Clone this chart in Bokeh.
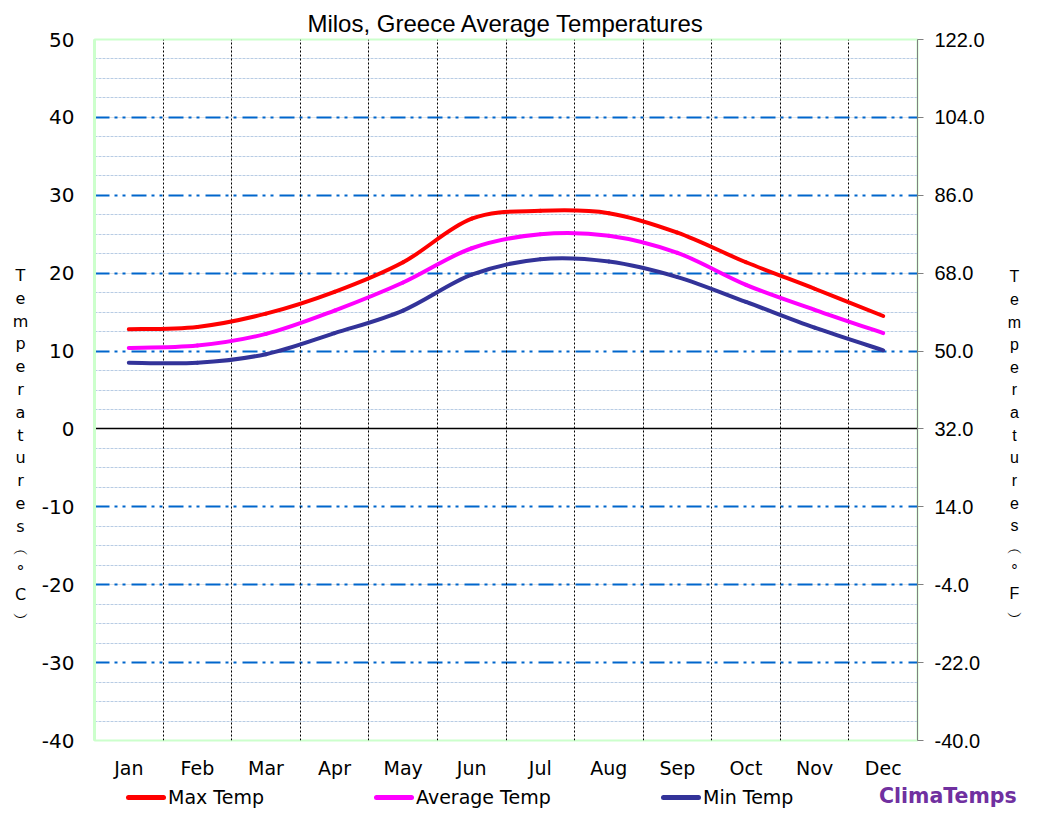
from bokeh.plotting import figure
from bokeh.layouts import column
from bokeh.models import (Range1d, LinearAxis, FixedTicker, Grid, Label, Div,
                          ColumnDataSource, PrintfTickFormatter)
from bokeh.embed import file_html
from bokeh.resources import INLINE
import numpy as np

# ---------------- data ----------------
months = ["Jan", "Feb", "Mar", "Apr", "May", "Jun", "Jul", "Aug", "Sep", "Oct", "Nov", "Dec"]
max_temp = [12.8, 13.1, 14.8, 17.6, 21.4, 27.0, 28.0, 27.7, 25.2, 21.4, 18.0, 14.5]
avg_temp = [10.4, 10.7, 12.2, 15.2, 18.8, 23.2, 25.0, 24.8, 22.6, 18.5, 15.3, 12.3]
min_temp = [8.5, 8.5, 9.6, 12.3, 15.2, 19.8, 21.8, 21.5, 19.5, 16.3, 13.0, 10.1]
series_names = ["Max Temp", "Average Temp", "Min Temp"]
c_ticks = [-40, -30, -20, -10, 0, 10, 20, 30, 40, 50]
f_ticks = [-40.0, -22.0, -4.0, 14.0, 32.0, 50.0, 68.0, 86.0, 104.0, 122.0]
title_text = "Milos, Greece Average Temperatures"
left_label = ["T", "e", "m", "p", "e", "r", "a", "t", "u", "r", "e", "s", "\ufe35", "\u00b0", "C", "\ufe36"]
right_label = ["T", "e", "m", "p", "e", "r", "a", "t", "u", "r", "e", "s", "\ufe35", "\u00b0", "F", "\ufe36"]
brand = "ClimaTemps"

# ---------------- main figure ----------------
W, H1, H2 = 1030, 781, 38
FL, FT, FR, FB = 94, 39, 917, 740   # frame edges on the canvas
p = figure(width=W, height=H1, output_backend="svg", toolbar_location=None,
           x_range=Range1d(0, 12), y_range=Range1d(-40, 50),
           min_border_left=FL, min_border_right=W - FR, min_border_top=FT, min_border_bottom=H1 - FB,
           x_axis_location=None, y_axis_location=None)
p.extra_y_ranges = {"f": Range1d(-40, 122)}
p.outline_line_color = "#ccffcc"
p.outline_line_width = 2
p.background_fill_color = "white"
p.border_fill_color = "white"

p.title.text = title_text
p.title.align = "center"
p.title.text_font = "Liberation Sans"
p.title.text_font_size = "24px"
p.title.text_font_style = "normal"
p.title.text_color = "black"
p.title.standoff = 6
p.title.offset = 0

# grids
minor_vals = [v for v in np.arange(-40, 50.01, 2.5) if abs(v % 10) > 1e-9]
minor_grid = Grid(dimension=1, ticker=FixedTicker(ticks=minor_vals),
                  grid_line_color="#b8cce4", grid_line_width=1, grid_line_dash="3 1")
major_grid = Grid(dimension=1, ticker=FixedTicker(ticks=[t for t in c_ticks if t not in (0, -40, 50)]),
                  grid_line_color="#0066cc", grid_line_width=2, grid_line_dash="15 5 3 5 3 6")
zero_grid = Grid(dimension=1, ticker=FixedTicker(ticks=[0]),
                 grid_line_color="black", grid_line_width=1.3)
vgrid = Grid(dimension=0, ticker=FixedTicker(ticks=list(range(1, 12))),
             grid_line_color="black", grid_line_width=1, grid_line_dash="2 2")
for g in (minor_grid, major_grid, zero_grid, vgrid):
    p.add_layout(g)

# axes
xaxis = LinearAxis(ticker=FixedTicker(ticks=[i + 0.5 for i in range(12)]),
                   major_label_overrides={i + 0.5: m for i, m in enumerate(months)})
xaxis.axis_line_color = None
xaxis.major_tick_line_color = None
xaxis.major_tick_out = 0
xaxis.major_tick_in = 0
xaxis.minor_tick_line_color = None
xaxis.major_label_text_font = "DejaVu Sans"
xaxis.major_label_text_font_size = "19px"
xaxis.major_label_text_color = "black"
xaxis.major_label_standoff = 16
p.add_layout(xaxis, "below")

yaxis = LinearAxis(ticker=FixedTicker(ticks=c_ticks), formatter=PrintfTickFormatter(format="%d"))
yaxis.axis_line_color = "#ccffcc"
yaxis.axis_line_width = 3
yaxis.major_tick_line_color = None
yaxis.major_tick_out = 0
yaxis.major_tick_in = 0
yaxis.minor_tick_line_color = None
yaxis.major_label_text_font = "DejaVu Sans"
yaxis.major_label_text_font_size = "20px"
yaxis.major_label_text_color = "black"
yaxis.major_label_standoff = 20
p.add_layout(yaxis, "left")

faxis = LinearAxis(y_range_name="f", ticker=FixedTicker(ticks=f_ticks),
                   formatter=PrintfTickFormatter(format="%.1f"))
faxis.axis_line_color = "#808080"
faxis.axis_line_width = 1
faxis.major_tick_line_color = "#808080"
faxis.major_tick_out = 6
faxis.major_tick_in = 0
faxis.minor_tick_line_color = None
faxis.major_label_text_font = "Liberation Sans"
faxis.major_label_text_font_size = "20px"
faxis.major_label_text_color = "black"
faxis.major_label_standoff = 11
p.add_layout(faxis, "right")

# vertical stacked axis titles, as multi-line labels in the side panels
left_title = Label(x=-2, y=FB - 446, x_units="screen", y_units="screen", text="\n".join(left_label),
                   text_align="center", text_baseline="middle", text_font="DejaVu Sans",
                   text_font_size="16px", text_color="black")
p.add_layout(left_title, "left")
right_title = Label(x=27, y=FB - 446, x_units="screen", y_units="screen", text="\n".join(right_label),
                    text_align="center", text_baseline="middle", text_font="Liberation Sans",
                    text_font_size="16px", text_color="black", text_line_height=1.33)
p.add_layout(right_title, "right")

# smooth curves (Catmull-Rom style Bezier segments through the data points)
def bezier_source(vals):
    xs = np.array([i + 0.5 for i in range(len(vals))])
    ys = np.array(vals, dtype=float)
    n = len(xs)
    xp = np.concatenate([[xs[0]], xs, [xs[-1]]])
    yp = np.concatenate([[ys[0]], ys, [ys[-1]]])
    d = dict(x0=[], y0=[], x1=[], y1=[], cx0=[], cy0=[], cx1=[], cy1=[])
    for i in range(n - 1):
        a, b = i + 1, i + 2
        d["x0"].append(xp[a]); d["y0"].append(yp[a])
        d["x1"].append(xp[b]); d["y1"].append(yp[b])
        d["cx0"].append(xp[a] + (xp[b] - xp[a - 1]) / 6); d["cy0"].append(yp[a] + (yp[b] - yp[a - 1]) / 6)
        d["cx1"].append(xp[b] - (xp[b + 1] - xp[a]) / 6); d["cy1"].append(yp[b] - (yp[b + 1] - yp[a]) / 6)
    return ColumnDataSource(d)

colors = ["#ff0000", "#ff00ff", "#333399"]
for vals, col in zip([max_temp, avg_temp, min_temp], colors):
    p.bezier(x0="x0", y0="y0", x1="x1", y1="y1", cx0="cx0", cy0="cy0", cx1="cx1", cy1="cy1",
             source=bezier_source(vals), line_color=col, line_width=4, line_cap="round")

# ---------------- legend strip (HTML) ----------------
legend_left = [126, 374, 661]      # screen x of each legend swatch
parts = []
for name, col, lx in zip(series_names, colors, legend_left):
    parts.append(f'<span style="position:absolute;left:{lx}px;top:14px;width:40px;height:5px;'
                 f'background:{col};border-radius:2.5px"></span>')
    parts.append(f'<span style="position:absolute;left:{lx + 42}px;top:5px;line-height:22px;'
                 f'white-space:nowrap">{name}</span>')
parts.append(f'<span style="position:absolute;left:879px;top:4px;line-height:22px;white-space:nowrap;'
             f'font-weight:bold;font-size:20.5px;color:#7030a0">{brand}</span>')
html = ('<div style="position:relative;width:%dpx;height:%dpx;font-family:\'DejaVu Sans\';'
        'font-size:19px;color:black;margin:0;padding:0">%s</div>' % (W, H2, "".join(parts)))
strip = Div(text=html, width=W, height=H2, margin=0)

page = column(p, strip, spacing=0)
open("out.html", "w").write(file_html(page, INLINE))
